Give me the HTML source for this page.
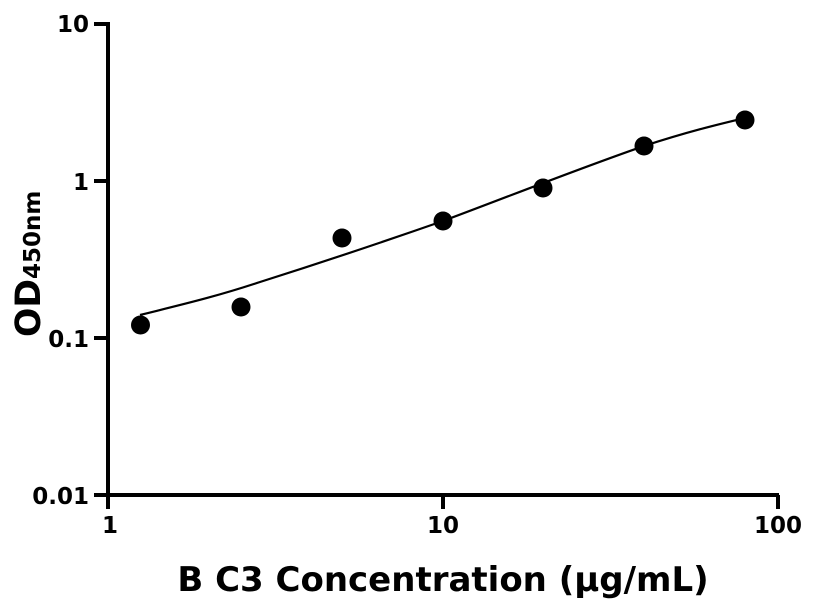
<!DOCTYPE html>
<html><head><meta charset="utf-8"><style>
html,body{margin:0;padding:0;background:#fff;}
svg{display:block;}
text{font-family:"DejaVu Sans","Liberation Sans",sans-serif;font-weight:bold;fill:#000;}
</style></head><body>
<svg width="816" height="612" viewBox="0 0 816 612" xmlns="http://www.w3.org/2000/svg">
<g stroke="#000" stroke-width="4" fill="none">
<line x1="108" y1="22" x2="108" y2="497"/>
<line x1="106" y1="495" x2="779" y2="495"/>
<line x1="94" y1="24" x2="108" y2="24"/>
<line x1="94" y1="181" x2="108" y2="181"/>
<line x1="94" y1="338" x2="108" y2="338"/>
<line x1="94" y1="495" x2="108" y2="495"/>
<line x1="108" y1="495" x2="108" y2="509"/>
<line x1="443" y1="495" x2="443" y2="509"/>
<line x1="778" y1="495" x2="778" y2="509"/>
</g>
<g font-size="23" text-anchor="end">
<text x="89" y="32">10</text>
<text x="89" y="190">1</text>
<text x="89" y="347">0.1</text>
<text x="89" y="504">0.01</text>
</g>
<g font-size="23" text-anchor="middle">
<text x="110" y="533">1</text>
<text x="443" y="533">10</text>
<text x="778" y="533">100</text>
</g>
<text x="443" y="591" font-size="34" text-anchor="middle">B C3 Concentration (µg/mL)</text>
<text transform="translate(40,337) rotate(-90)" font-size="34.5">OD<tspan font-size="23">450nm</tspan></text>
<path d="M140,315 C180,305 215,297 260,282 C320,263 380,243 443,221 C510,196 575,170 644,146 C690,131 720,124 745,118" stroke="#000" stroke-width="2.2" fill="none"/>
<g fill="#000">
<circle cx="140.5" cy="325" r="9.5"/>
<circle cx="241" cy="307" r="9.5"/>
<circle cx="342" cy="238" r="9.5"/>
<circle cx="443" cy="221" r="9.5"/>
<circle cx="543" cy="188" r="9.5"/>
<circle cx="644" cy="146" r="9.5"/>
<circle cx="745" cy="120" r="9.5"/>
</g>
</svg>
</body></html>
